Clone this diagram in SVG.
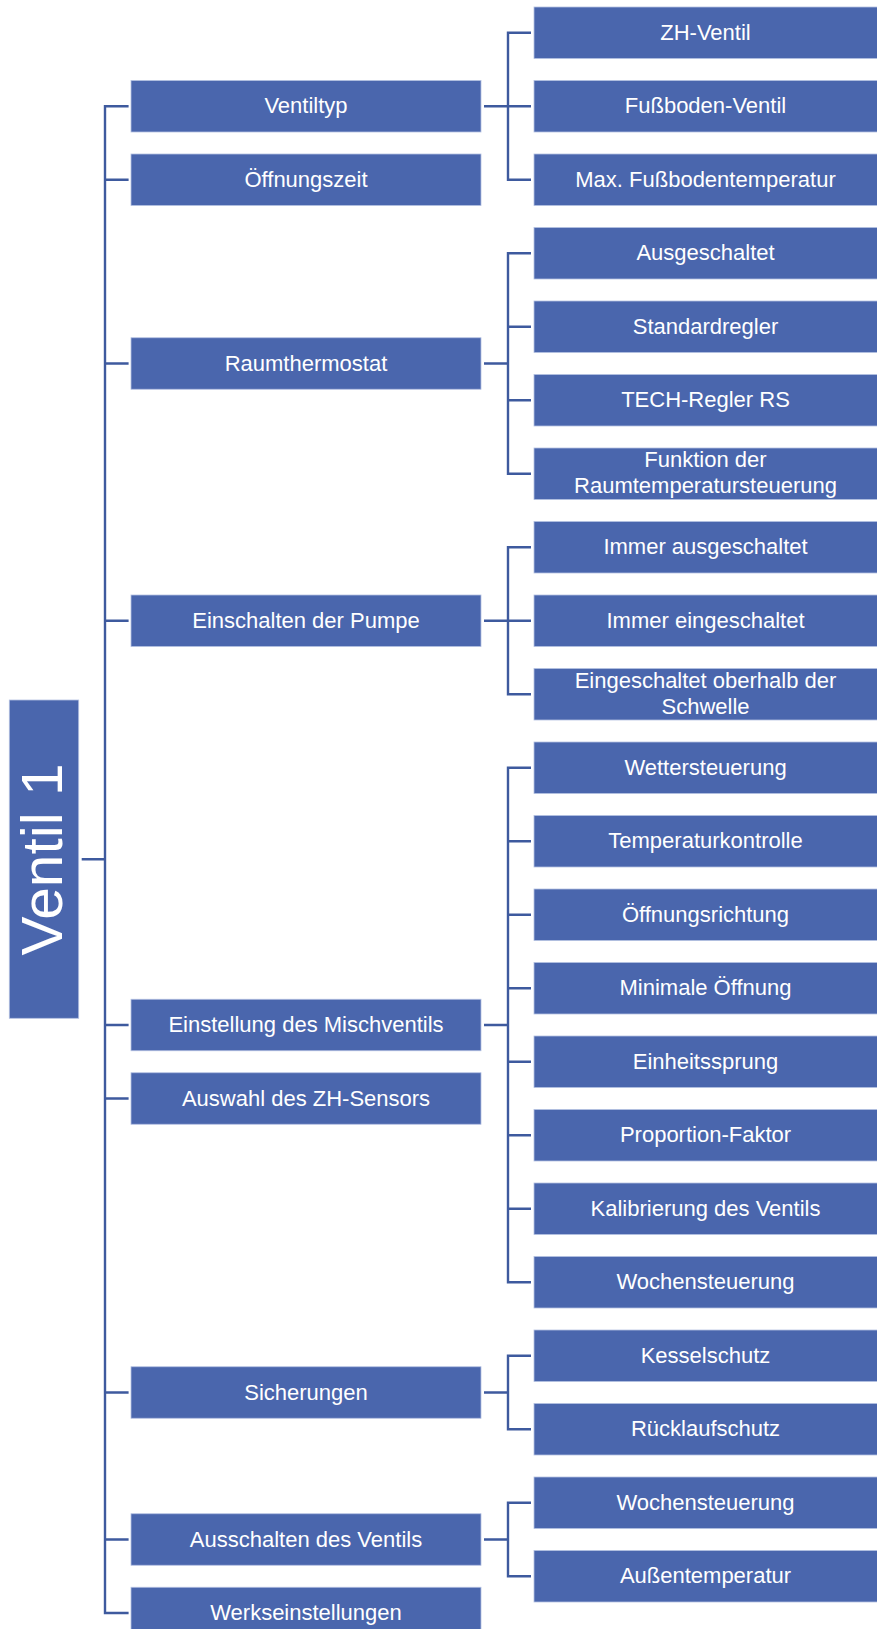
<svg xmlns="http://www.w3.org/2000/svg" width="877" height="1629" viewBox="0 0 877 1629">
<style>
.b{fill:#4a66ad;stroke:#b4c1e2;stroke-width:0.8}
.t{font-family:"Liberation Sans",Arial,sans-serif;font-size:22px;fill:#ffffff;text-anchor:middle}
.c{fill:none;stroke:#3e5a9e;stroke-width:2.4}
</style>
<rect width="877" height="1629" fill="#ffffff"/>
<g id="connectors" class="c">
<path d="M81.7,859.3 H105 M128.6,106.25 H105 V1613 H128.6 M105,179.75 H128.6 M105,363.5 H128.6 M105,620.75 H128.6 M105,1025 H128.6 M105,1098.5 H128.6 M105,1392.5 H128.6 M105,1539.5 H128.6"/>
<path d="M484,106.25 H508 M531,32.75 H508 V179.75 H531 M508,106.25 H531"/>
<path d="M484,363.5 H508 M531,253.25 H508 V473.75 H531 M508,326.75 H531 M508,400.25 H531"/>
<path d="M484,620.75 H508 M531,547.25 H508 V694.25 H531 M508,620.75 H531"/>
<path d="M484,1025 H508 M531,767.75 H508 V1282.25 H531 M508,841.25 H531 M508,914.75 H531 M508,988.25 H531 M508,1061.75 H531 M508,1135.25 H531 M508,1208.75 H531"/>
<path d="M484,1392.5 H508 M531,1355.75 H508 V1429.25 H531"/>
<path d="M484,1539.5 H508 M531,1502.75 H508 V1576.25 H531"/>
</g>
<g id="root"><rect class="b" x="9.3" y="700" width="69.4" height="318.3"/><text transform="translate(0,859.5) rotate(-90)" x="0" y="62" style="font-family:'Liberation Sans',Arial,sans-serif;font-size:57px;fill:#fff;text-anchor:middle" textLength="192" lengthAdjust="spacingAndGlyphs">Ventil 1</text></g>
<g id="ventiltyp"><rect class="b" x="131" y="80.5" width="350" height="51.5"/><text class="t" x="306" y="113.25">Ventiltyp</text></g>
<g id="oeffnungszeit"><rect class="b" x="131" y="154" width="350" height="51.5"/><text class="t" x="306" y="186.75">Öffnungszeit</text></g>
<g id="raumthermostat"><rect class="b" x="131" y="337.75" width="350" height="51.5"/><text class="t" x="306" y="370.5">Raumthermostat</text></g>
<g id="pumpe"><rect class="b" x="131" y="595" width="350" height="51.5"/><text class="t" x="306" y="627.75">Einschalten der Pumpe</text></g>
<g id="mischventil"><rect class="b" x="131" y="999.25" width="350" height="51.5"/><text class="t" x="306" y="1032">Einstellung des Mischventils</text></g>
<g id="zhsensor"><rect class="b" x="131" y="1072.75" width="350" height="51.5"/><text class="t" x="306" y="1105.5">Auswahl des ZH-Sensors</text></g>
<g id="sicherungen"><rect class="b" x="131" y="1366.75" width="350" height="51.5"/><text class="t" x="306" y="1399.5">Sicherungen</text></g>
<g id="ausschalten"><rect class="b" x="131" y="1513.75" width="350" height="51.5"/><text class="t" x="306" y="1546.5">Ausschalten des Ventils</text></g>
<g id="werk"><rect class="b" x="131" y="1587.25" width="350" height="51.5"/><text class="t" x="306" y="1620">Werkseinstellungen</text></g>
<g id="zhventil"><rect class="b" x="534" y="7" width="345" height="51.5"/><text class="t" x="705.5" y="39.75">ZH-Ventil</text></g>
<g id="fussbodenventil"><rect class="b" x="534" y="80.5" width="345" height="51.5"/><text class="t" x="705.5" y="113.25">Fußboden-Ventil</text></g>
<g id="maxfussboden"><rect class="b" x="534" y="154" width="345" height="51.5"/><text class="t" x="705.5" y="186.75">Max. Fußbodentemperatur</text></g>
<g id="ausgeschaltet"><rect class="b" x="534" y="227.5" width="345" height="51.5"/><text class="t" x="705.5" y="260.25">Ausgeschaltet</text></g>
<g id="standardregler"><rect class="b" x="534" y="301" width="345" height="51.5"/><text class="t" x="705.5" y="333.75">Standardregler</text></g>
<g id="techregler"><rect class="b" x="534" y="374.5" width="345" height="51.5"/><text class="t" x="705.5" y="407.25">TECH-Regler RS</text></g>
<g id="funktion"><rect class="b" x="534" y="448" width="345" height="51.5"/><text class="t" x="705.5" y="467">Funktion der</text><text class="t" x="705.5" y="493">Raumtemperatursteuerung</text></g>
<g id="immeraus"><rect class="b" x="534" y="521.5" width="345" height="51.5"/><text class="t" x="705.5" y="554.25">Immer ausgeschaltet</text></g>
<g id="immerein"><rect class="b" x="534" y="595" width="345" height="51.5"/><text class="t" x="705.5" y="627.75">Immer eingeschaltet</text></g>
<g id="schwelle"><rect class="b" x="534" y="668.5" width="345" height="51.5"/><text class="t" x="705.5" y="687.5">Eingeschaltet oberhalb der</text><text class="t" x="705.5" y="713.5">Schwelle</text></g>
<g id="wetter"><rect class="b" x="534" y="742" width="345" height="51.5"/><text class="t" x="705.5" y="774.75">Wettersteuerung</text></g>
<g id="temperatur"><rect class="b" x="534" y="815.5" width="345" height="51.5"/><text class="t" x="705.5" y="848.25">Temperaturkontrolle</text></g>
<g id="richtung"><rect class="b" x="534" y="889" width="345" height="51.5"/><text class="t" x="705.5" y="921.75">Öffnungsrichtung</text></g>
<g id="minimal"><rect class="b" x="534" y="962.5" width="345" height="51.5"/><text class="t" x="705.5" y="995.25">Minimale Öffnung</text></g>
<g id="einheit"><rect class="b" x="534" y="1036" width="345" height="51.5"/><text class="t" x="705.5" y="1068.75">Einheitssprung</text></g>
<g id="proportion"><rect class="b" x="534" y="1109.5" width="345" height="51.5"/><text class="t" x="705.5" y="1142.25">Proportion-Faktor</text></g>
<g id="kalibrierung"><rect class="b" x="534" y="1183" width="345" height="51.5"/><text class="t" x="705.5" y="1215.75">Kalibrierung des Ventils</text></g>
<g id="wochen1"><rect class="b" x="534" y="1256.5" width="345" height="51.5"/><text class="t" x="705.5" y="1289.25">Wochensteuerung</text></g>
<g id="kessel"><rect class="b" x="534" y="1330" width="345" height="51.5"/><text class="t" x="705.5" y="1362.75">Kesselschutz</text></g>
<g id="ruecklauf"><rect class="b" x="534" y="1403.5" width="345" height="51.5"/><text class="t" x="705.5" y="1436.25">Rücklaufschutz</text></g>
<g id="wochen2"><rect class="b" x="534" y="1477" width="345" height="51.5"/><text class="t" x="705.5" y="1509.75">Wochensteuerung</text></g>
<g id="aussen"><rect class="b" x="534" y="1550.5" width="345" height="51.5"/><text class="t" x="705.5" y="1583.25">Außentemperatur</text></g>
</svg>
